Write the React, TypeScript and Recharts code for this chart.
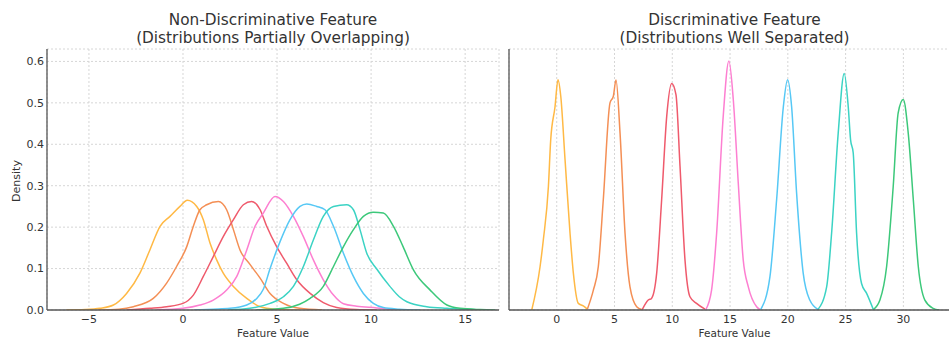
import { LineChart, Line, XAxis, YAxis, CartesianGrid } from 'recharts'

// left panel: overlapping KDE curves, [x, density]
const ndYellow = [[-6.2,0],[-5.2,0.001],[-4.41,0.004],[-3.7,0.012],[-3.0,0.04],[-2.29,0.089],[-1.76,0.145],[-1.22,0.202],[-0.69,0.226],[-0.16,0.25],[0.23,0.265],[0.73,0.25],[1.08,0.218],[1.44,0.161],[1.79,0.121],[2.14,0.089],[2.68,0.057],[3.39,0.028],[4.1,0.008],[4.9,0.002],[6.2,0]]
const ndOrange = [[-4.5,0],[-3.4,0.002],[-2.64,0.008],[-1.58,0.028],[-0.87,0.065],[-0.34,0.105],[0.2,0.153],[0.55,0.202],[0.9,0.242],[1.26,0.254],[1.88,0.262],[2.32,0.242],[2.68,0.194],[3.03,0.145],[3.56,0.11],[4.1,0.077],[4.63,0.04],[5.34,0.016],[6.2,0.004],[7.4,0]]
const ndRed = [[-3.0,0],[-1.76,0.004],[-0.87,0.008],[0,0.016],[0.55,0.036],[1.08,0.081],[1.61,0.129],[2.14,0.177],[2.68,0.218],[3.21,0.254],[3.65,0.262],[4.1,0.242],[4.45,0.202],[4.98,0.153],[5.51,0.113],[6.05,0.073],[6.76,0.04],[7.46,0.018],[8.17,0.006],[9.2,0.001],[10.3,0]]
const ndPink = [[-1.4,0],[0,0.004],[0.9,0.012],[1.61,0.024],[2.32,0.048],[2.86,0.081],[3.39,0.145],[3.83,0.202],[4.27,0.234],[4.89,0.274],[5.34,0.262],[5.87,0.226],[6.4,0.177],[6.93,0.121],[7.46,0.073],[8.0,0.036],[8.53,0.015],[9.24,0.009],[10.3,0.005],[11.3,0]]
const ndBlue = [[0.6,0],[1.6,0.002],[2.5,0.004],[3.39,0.012],[3.92,0.028],[4.27,0.05],[4.63,0.1],[5.16,0.165],[5.69,0.218],[6.22,0.25],[6.58,0.256],[7.11,0.25],[7.55,0.242],[8.0,0.202],[8.53,0.137],[9.06,0.081],[9.59,0.04],[10.12,0.016],[10.65,0.006],[11.5,0.002],[12.6,0]]
const ndTeal = [[2.4,0],[3.56,0.004],[4.63,0.016],[5.34,0.032],[5.87,0.057],[6.4,0.105],[6.93,0.169],[7.46,0.226],[8.0,0.25],[8.7,0.254],[9.06,0.242],[9.41,0.194],[9.77,0.137],[10.3,0.099],[11.0,0.057],[11.5,0.032],[11.9,0.02],[12.96,0.008],[14.03,0.004],[15.0,0.002],[15.9,0]]
const ndGreen = [[3.9,0],[5.34,0.004],[6.2,0.014],[6.76,0.028],[7.46,0.057],[8.0,0.105],[8.53,0.153],[9.06,0.194],[9.59,0.226],[10.12,0.236],[10.65,0.234],[11.19,0.202],[11.7,0.153],[12.25,0.097],[13.14,0.048],[14.03,0.012],[14.73,0.004],[15.8,0.001],[16.6,0]]

// right panel: well separated KDE curves
const dYellow = [[-2.16,0],[-1.44,0.105],[-1.16,0.169],[-0.72,0.298],[-0.52,0.411],[-0.15,0.49],[0.11,0.556],[0.35,0.516],[0.72,0.363],[1.15,0.186],[1.44,0.089],[1.87,0.016],[2.3,0.01],[2.65,0.002]]
const dOrange = [[2.65,0.002],[3.17,0.048],[3.6,0.105],[4.03,0.266],[4.61,0.5],[4.9,0.516],[5.13,0.555],[5.48,0.427],[5.91,0.186],[6.34,0.056],[6.92,0.008],[7.35,0.001]]
const dRed = [[7.4,0.001],[7.92,0.024],[8.2,0.028],[8.65,0.089],[9.08,0.266],[9.52,0.468],[9.95,0.547],[10.32,0.52],[10.67,0.347],[11.1,0.121],[11.53,0.032],[12.1,0.016],[12.83,0.002]]
const dPink = [[12.9,0.001],[13.4,0.048],[13.84,0.186],[14.41,0.468],[14.9,0.601],[15.28,0.508],[15.71,0.307],[16.14,0.121],[16.58,0.056],[17.3,0.008],[17.6,0.001]]
const dBlue = [[17.65,0.001],[18.45,0.08],[19.03,0.266],[19.61,0.49],[19.98,0.556],[20.33,0.49],[20.76,0.282],[21.33,0.089],[21.9,0.024],[22.63,0.001]]
const dTeal = [[22.6,0.001],[23.36,0.056],[23.79,0.186],[24.36,0.427],[24.88,0.571],[25.23,0.49],[25.43,0.411],[25.66,0.379],[25.95,0.186],[26.38,0.064],[26.82,0.04],[27.4,0.001]]
const dGreen = [[27.4,0.001],[27.97,0.024],[28.55,0.105],[29.12,0.298],[29.55,0.476],[29.99,0.508],[30.42,0.427],[30.86,0.266],[31.29,0.105],[31.86,0.024],[32.58,0.004],[33.1,0]]

const colors = ['#ffb945', '#f48f55', '#ef5a6c', '#fd7fd1', '#56c8f5', '#3bd3c4', '#3cc87a']
const leftSeries = [ndYellow, ndOrange, ndRed, ndPink, ndBlue, ndTeal, ndGreen]
const rightSeries = [dYellow, dOrange, dRed, dPink, dBlue, dTeal, dGreen]

const leftTicks = [-5, 0, 5, 10, 15]
const rightTicks = [0, 5, 10, 15, 20, 25, 30]
const yTicks = [0, 0.1, 0.2, 0.3, 0.4, 0.5, 0.6]

const font = 'DejaVu Sans, sans-serif'
const tickStyle = { fill: '#333', fontSize: 11, fontFamily: font }
const fmtX = (v: number) => (v < 0 ? '\u2212' + Math.abs(v) : String(v))

const toPts = (s: number[][]) => s.map(([x, y]) => ({ x, y }))

function Panel({ series, domain, ticks, showY }: { series: number[][][]; domain: [number, number]; ticks: number[]; showY: boolean }) {
  return (
    <LineChart width={showY ? 500 : 460} height={338} margin={{ top: 49, right: showY ? 1 : 0, bottom: 0, left: 0 }}>
      <CartesianGrid stroke="#d6d6d6" strokeDasharray="2 2" />
      <XAxis type="number" dataKey="x" domain={domain} ticks={ticks} allowDataOverflow height={28}
        tick={tickStyle} tickFormatter={fmtX} tickLine={false} tickSize={2} tickMargin={3}
        axisLine={{ stroke: '#555', strokeWidth: 1.3 }} />
      <YAxis type="number" domain={[0, 0.63]} ticks={yTicks} allowDataOverflow width={showY ? 47 : 9}
        tick={showY ? tickStyle : false} tickFormatter={(v: number) => v.toFixed(1)} tickLine={false} tickSize={2} tickMargin={1}
        axisLine={{ stroke: '#555', strokeWidth: 1.3 }} />
      {series.map((s, i) => (
        <Line key={i} data={toPts(s)} dataKey="y" type="monotone" stroke={colors[i]} strokeWidth={1.5}
          dot={false} activeDot={false} isAnimationActive={false} />
      ))}
    </LineChart>
  )
}

const titleStyle = { position: 'absolute' as const, top: 11, width: 400, textAlign: 'center' as const, fontSize: 15.3, lineHeight: '18px', color: '#333', fontFamily: font }
const labelStyle = { position: 'absolute' as const, top: 326, width: 200, textAlign: 'center' as const, fontSize: 10.5, color: '#333', fontFamily: font, lineHeight: '14px' }

export default function App() {
  return (
    <div style={{ position: 'absolute', left: 0, top: 0, width: 949, height: 338, overflow: 'hidden', background: '#fff' }}>
      <div style={{ position: 'absolute', left: 0, top: 0 }}>
        <Panel series={leftSeries} domain={[-7.23, 16.8]} ticks={leftTicks} showY />
      </div>
      <div style={{ position: 'absolute', left: 500, top: 0 }}>
        <Panel series={rightSeries} domain={[-4.13, 34.9]} ticks={rightTicks} showY={false} />
      </div>
      <div style={{ ...titleStyle, left: 73 }}>Non-Discriminative Feature<br />(Distributions Partially Overlapping)</div>
      <div style={{ ...titleStyle, left: 534.5 }}>Discriminative Feature<br />(Distributions Well Separated)</div>
      <div style={{ ...labelStyle, left: 173 }}>Feature Value</div>
      <div style={{ ...labelStyle, left: 634.5 }}>Feature Value</div>
      <div style={{ position: 'absolute', left: 16, top: 181, transform: 'translate(-50%, -50%) rotate(-90deg)', fontSize: 11, color: '#333', fontFamily: font, whiteSpace: 'nowrap' }}>Density</div>
    </div>
  )
}
